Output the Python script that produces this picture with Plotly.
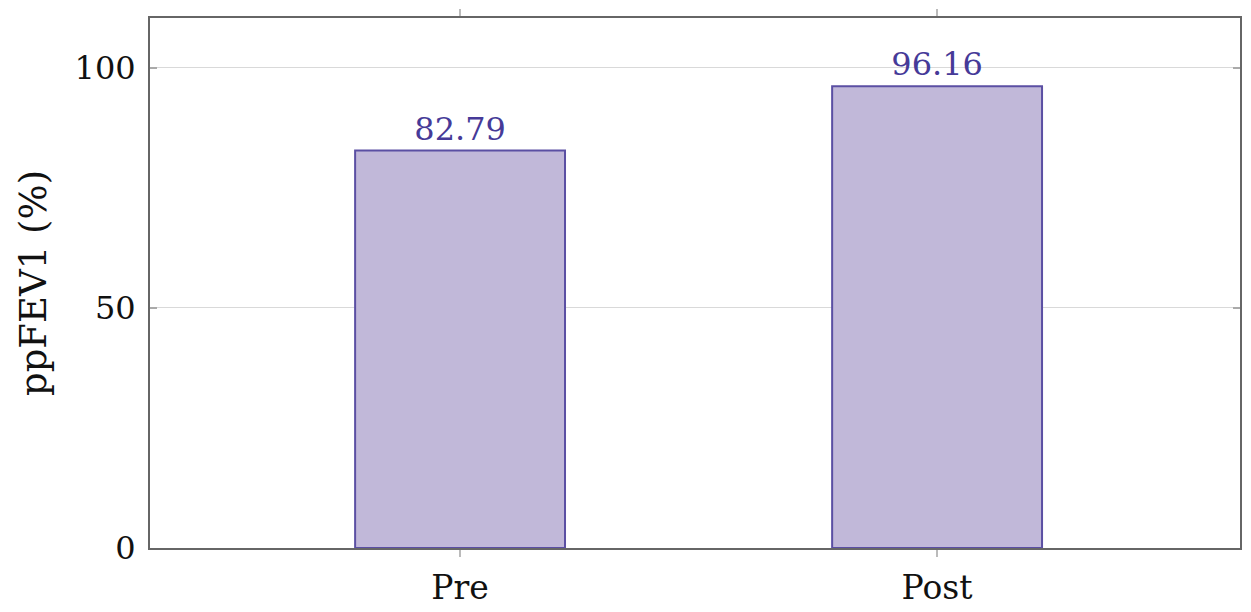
import plotly.graph_objects as go

categories = ["Pre", "Post"]
values = [82.79, 96.16]
y_ticks = [0, 50, 100]
y_title = "ppFEV1 (%)"

FONT = "DejaVu Serif"
fig = go.Figure()
fig.add_trace(go.Bar(
    x=categories, y=values, width=0.44,
    marker=dict(color="#c1b8d9", line=dict(color="#5b4fa3", width=2)),
    text=[f"{v:.2f}" for v in values], textposition="outside",
    textfont=dict(family=FONT, size=32, color="#463a98"),
    cliponaxis=False,
))
# page body has an 8px margin: shift figure geometry accordingly
fig.update_layout(
    width=1243, height=604,
    margin=dict(l=142, r=11, t=10, b=64),
    paper_bgcolor="white", plot_bgcolor="white",
    showlegend=False,
    font=dict(family=FONT, size=32, color="#111"),
)
fig.update_xaxes(
    range=[-0.65, 1.635], showgrid=False, automargin=False,
    showline=True, linecolor="#666", linewidth=2, mirror="allticks",
    ticks="outside", ticklen=7, tickcolor="#bbb", tickwidth=1.5,
    tickfont=dict(size=33), ticklabelstandoff=2,
)
fig.update_yaxes(
    range=[0, 110.4], tickvals=y_ticks, showgrid=True, gridcolor="#d9d9d9", gridwidth=1,
    showline=True, linecolor="#666", linewidth=2, mirror="allticks", automargin=False,
    ticks="inside", ticklen=7, tickcolor="#aaa", tickwidth=1.5, zeroline=False,
    tickfont=dict(size=32), ticklabelstandoff=6,
)
fig.add_annotation(
    text=y_title, textangle=-90, xref="paper", yref="paper",
    x=0, y=0.5, xanchor="center", yanchor="middle", xshift=-117, showarrow=False,
    font=dict(family=FONT, size=37, color="#111"),
)
fig.write_html("out.html")
